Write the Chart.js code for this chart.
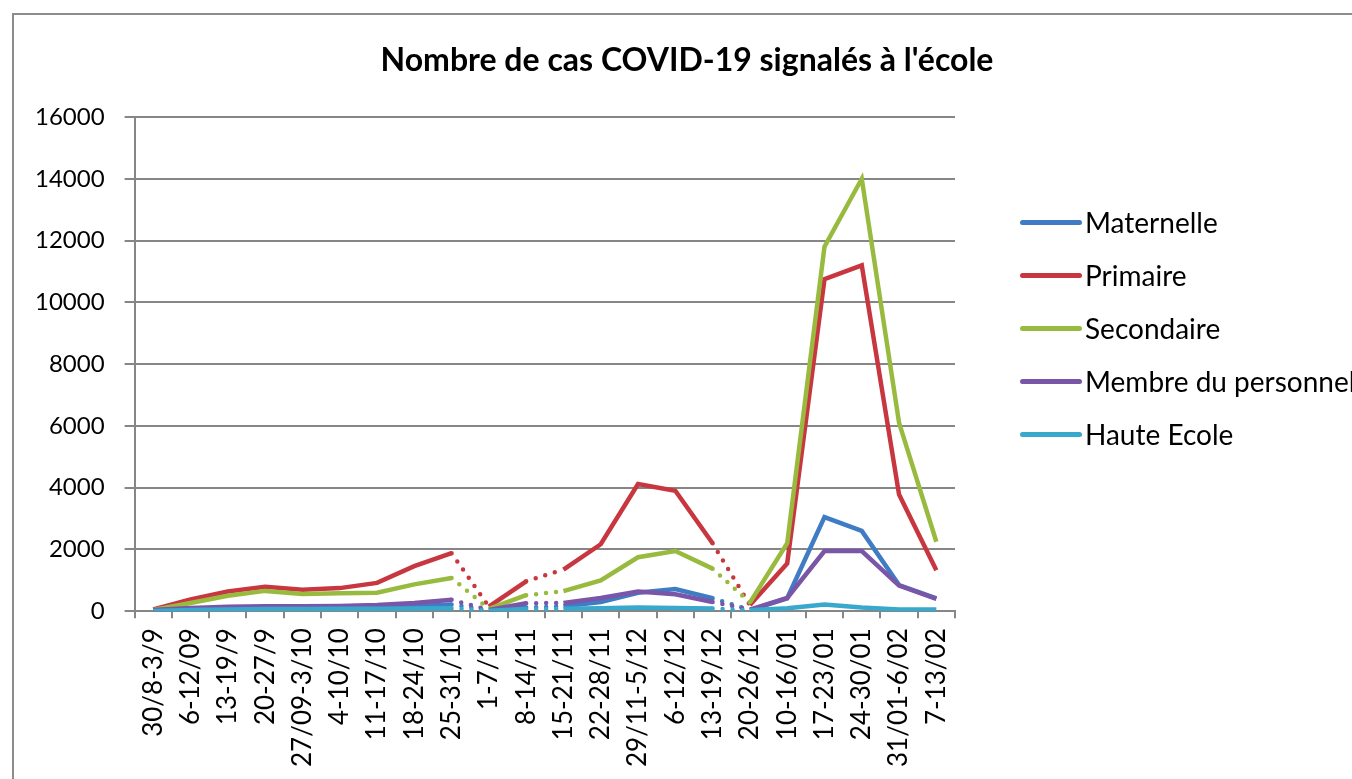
<!DOCTYPE html>
<html lang="fr">
<head>
<meta charset="utf-8">
<title>Nombre de cas COVID-19 signalés à l'école</title>
<script src="https://cdn.jsdelivr.net/npm/chart.js@4/dist/chart.umd.min.js"></script>
<style>
  html, body { margin: 0; padding: 0; background: #fff; overflow: hidden; }
  body { width: 1352px; height: 779px; position: relative; font-family: Lato, "Open Sans", sans-serif; }
  .frame { position: absolute; left: 12px; top: 13px; width: 1400px; height: 800px;
           border-left: 2px solid #8c8c8c; border-top: 2px solid #8c8c8c; }
  .wrap { position: absolute; left: 0; top: 0; width: 1352px; height: 779px; }
  h1 { position: absolute; left: 0; top: 40px; width: 1374px; margin: 0; text-align: center;
       font: bold 32px Lato, sans-serif; line-height: 38px; color: #000; }
  #legend { position: absolute; left: 1020px; top: 205px; margin: 0; padding: 0; list-style: none; }
  #legend li { height: 53px; display: flex; align-items: flex-start; white-space: nowrap;
               font: 28px Lato, sans-serif; line-height: 34px; color: #000; }
  #legend .swatch { display: inline-block; width: 62px; height: 5px; border-radius: 3px; margin: 15px 3px 0 0; }
</style>
</head>
<body>
<div class="frame"></div>
<div class="wrap"><canvas id="chart"></canvas></div>
<h1>Nombre de cas COVID-19 signalés à l'école</h1>
<ul id="legend"></ul>
<script>
const weeks = ['30/8-3/9', '6-12/09', '13-19/9', '20-27/9', '27/09-3/10', '4-10/10', '11-17/10', '18-24/10',
  '25-31/10', '1-7/11', '8-14/11', '15-21/11', '22-28/11', '29/11-5/12', '6-12/12', '13-19/12',
  '20-26/12', '10-16/01', '17-23/01', '24-30/01', '31/01-6/02', '7-13/02']

const maternelle = [20, 60, 90, 100, 100, 110, 130, 170, 220, 30, 120, 160, 300, 600, 720, 420, 40, 420, 3050, 2600, 850, 420]
const primaire = [60, 380, 640, 790, 700, 750, 920, 1460, 1880, 150, 970, 1350, 2170, 4120, 3900, 2200, 200, 1550, 10750, 11200, 3780, 1330]
const secondaire = [40, 270, 500, 660, 560, 580, 600, 870, 1080, 80, 520, 650, 1000, 1750, 1950, 1380, 280, 2200, 11800, 14000, 6100, 2250]
const personnel = [40, 110, 150, 160, 160, 170, 200, 270, 370, 40, 260, 270, 430, 640, 550, 300, 50, 430, 1950, 1950, 830, 400]
const hauteEcole = [10, 40, 60, 70, 70, 80, 80, 90, 100, 20, 70, 80, 100, 120, 110, 90, 30, 100, 220, 120, 60, 60]

// weeks whose link to the next week is drawn dotted (holidays)
const dottedFrom = [8, 10, 15]
const yTicks = [0, 2000, 4000, 6000, 8000, 10000, 12000, 14000, 16000]

const gridColor = '#868686'

function serie(label, data, color, order) {
    return {
        label: label,
        data: data,
        borderColor: color,
        backgroundColor: color,
        borderWidth: 4.5,
        pointRadius: 0,
        tension: 0,
        order: order,
        segment: {
            borderDash: ctx => dottedFrom.includes(ctx.p0DataIndex) ? [0, 10] : undefined,
            borderCapStyle: ctx => dottedFrom.includes(ctx.p0DataIndex) ? 'round' : 'butt',
        },
    }
}

const htmlLegend = {
    id: 'htmlLegend',
    afterUpdate(chart) {
        const ul = document.getElementById('legend')
        ul.innerHTML = ''
        chart.data.datasets.forEach(ds => {
            const li = document.createElement('li')
            const sw = document.createElement('span')
            sw.className = 'swatch'
            sw.style.background = ds.borderColor
            li.appendChild(sw)
            li.appendChild(document.createTextNode(ds.label))
            ul.appendChild(li)
        })
    },
}

new Chart(document.getElementById('chart'), {
    type: 'line',
    data: {
        labels: weeks,
        datasets: [
            serie('Maternelle', maternelle, '#3f7cc4', 5),
            serie('Primaire', primaire, '#c8373f', 4),
            serie('Secondaire', secondaire, '#98bb3f', 3),
            serie('Membre du personnel', personnel, '#7a56a8', 2),
            serie('Haute Ecole', hauteEcole, '#38a9cc', 1),
        ],
    },
    options: {
        responsive: true,
        maintainAspectRatio: false,
        animation: false,
        // y axis width = tick mark + label + 2 * padding
        layout: { padding: { left: 15, right: 397, top: 117, bottom: 2 } },
        plugins: {
            legend: { display: false },
            title: { display: false },
            tooltip: { enabled: false },
        },
        scales: {
            x: {
                offset: true,
                grid: { offset: true, drawOnChartArea: false, tickLength: 7, color: gridColor, lineWidth: 2 },
                border: { color: gridColor, width: 2 },
                ticks: { autoSkip: false, minRotation: 90, maxRotation: 90, padding: 10, color: '#000',
                         font: { family: 'Lato', size: 26 } },
            },
            y: {
                min: 0,
                max: 16000,
                afterBuildTicks: axis => { axis.ticks = yTicks.map(v => ({ value: v })) },
                grid: { color: gridColor, lineWidth: 2, tickLength: 10 },
                border: { color: gridColor, width: 2 },
                ticks: { padding: 20, color: '#000', font: { family: 'Lato', size: 24 },
                         callback: v => String(v) },
            },
        },
    },
    plugins: [htmlLegend],
})
</script>
</body>
</html>
